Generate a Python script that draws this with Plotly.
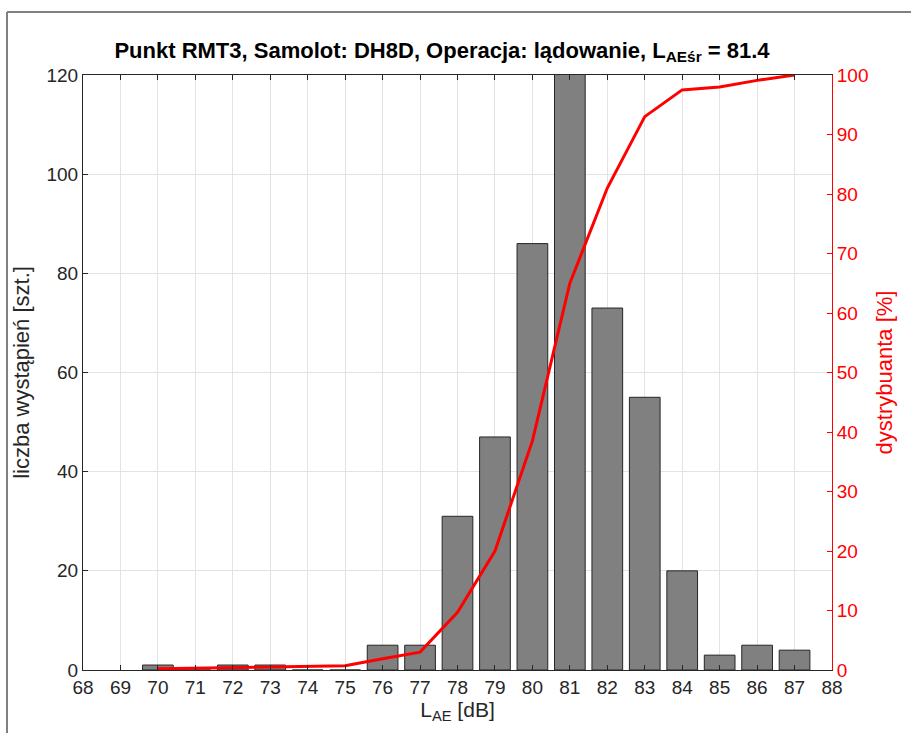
import plotly.graph_objects as go

levels = [70, 71, 72, 73, 74, 75, 76, 77, 78, 79, 80, 81, 82, 83, 84, 85, 86, 87]
counts = [1, 0, 1, 1, 0, 0, 5, 5, 31, 47, 86, 130, 73, 55, 20, 3, 5, 4]
cdf_pct = [0.2, 0.3, 0.5, 0.6, 0.6, 0.7, 1.9, 3.0, 9.7, 20.0, 38.5, 65.0, 81.0, 93.0, 97.5, 98.0, 99.1, 100.0]

title_txt = "Punkt RMT3, Samolot: DH8D, Operacja: lądowanie, L<sub>AEśr</sub> = 81.4"
xlab = "L<sub>AE</sub> [dB]"
ylab = "liczba wystąpień [szt.]"
y2lab = "dystrybuanta [%]"

L, R, T, B = 83, 832, 75, 670
W, H = 911, 733
pw, ph = R - L, B - T

fig = go.Figure()
fig.add_trace(go.Bar(x=levels, y=counts, width=0.82,
                     marker=dict(color="#808080", line=dict(color="#262626", width=1)),
                     showlegend=False))
fig.add_trace(go.Scatter(x=levels, y=cdf_pct, yaxis="y2", mode="lines",
                         line=dict(color="#ff0000", width=3), showlegend=False))

font = "Liberation Sans, Arial, sans-serif"
fig.update_layout(
    width=W, height=H,
    margin=dict(l=L, r=W - R, t=T, b=H - B, autoexpand=False),
    paper_bgcolor="white", plot_bgcolor="white",
    font=dict(family=font, size=19, color="#262626"),
    title=dict(text="<b>" + title_txt + "</b>", x=442 / W, xanchor="center",
               y=1 - 50 / H, yanchor="middle",
               font=dict(family=font, size=22, color="black")),
    xaxis=dict(range=[68, 88], tickmode="linear", tick0=68, dtick=1,
               showgrid=True, gridcolor="#e3e3e3", gridwidth=1,
               ticks="inside", ticklen=5, tickcolor="#262626",
               showline=True, linecolor="#262626", linewidth=1, mirror="ticks",
               zeroline=False, automargin=False,
               title=dict(text=xlab, font=dict(size=21, color="#262626"), standoff=4),
               tickfont=dict(size=19, color="#262626")),
    yaxis=dict(range=[0, 120], tickmode="linear", tick0=0, dtick=20,
               showgrid=True, gridcolor="#e3e3e3", gridwidth=1,
               ticks="inside", ticklen=5, tickcolor="#262626",
               showline=True, linecolor="#262626", linewidth=1,
               zeroline=False, automargin=False,
               title=dict(text=ylab, font=dict(size=22, color="#262626"), standoff=10),
               tickfont=dict(size=19, color="#262626")),
    yaxis2=dict(range=[0, 100], tickmode="linear", tick0=0, dtick=10,
                overlaying="y", side="right", showgrid=False,
                ticks="inside", ticklen=5, tickcolor="#ff0000",
                showline=True, linecolor="#ff0000", linewidth=1,
                zeroline=False, automargin=False,
                title=dict(text=y2lab, font=dict(size=22, color="#ff0000"), standoff=9),
                tickfont=dict(size=19, color="#ff0000")),
    shapes=[dict(type="line", xref="paper", yref="paper",
                 x0=(7 - L) / pw, x1=(7 - L) / pw, y0=1 + (T - 12) / ph, y1=-0.3,
                 line=dict(color="#808080", width=2)),
            dict(type="line", xref="paper", yref="paper",
                 x0=(7 - L) / pw, x1=1.3, y0=1 + (T - 12) / ph, y1=1 + (T - 12) / ph,
                 line=dict(color="#808080", width=2))],
)
fig.write_html("out.html", config={"displayModeBar": False},
               post_script="document.body.style.margin='0';document.body.style.overflow='hidden';")
